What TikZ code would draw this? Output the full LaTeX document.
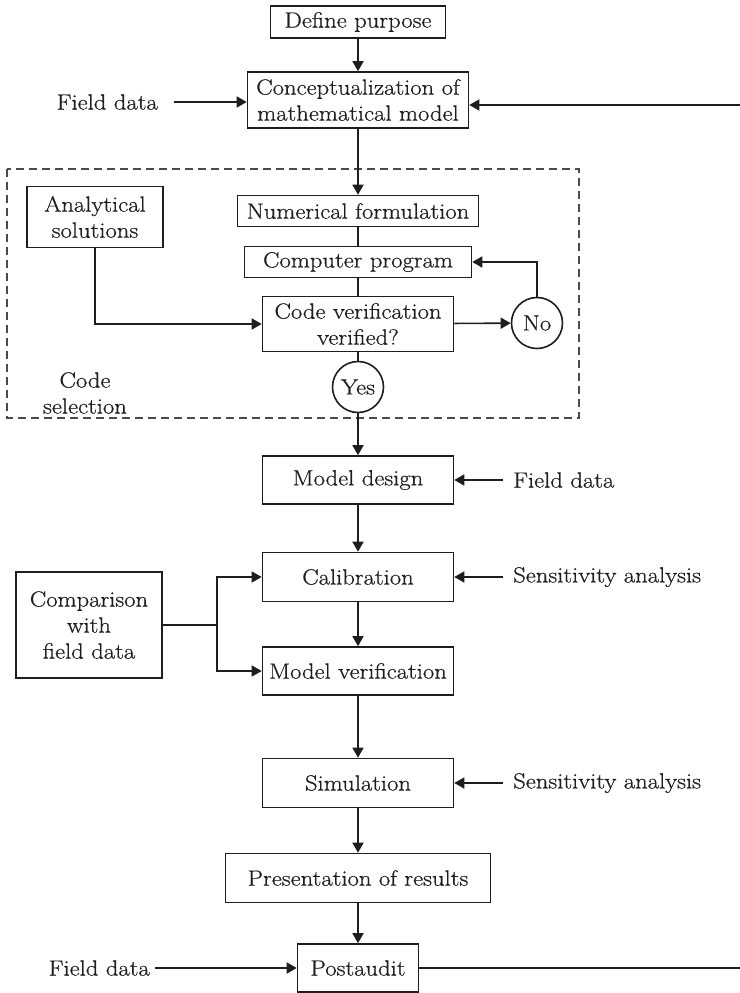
\documentclass[tikz,border=0pt]{standalone}
\usepackage{fontspec}
\setmainfont{Latin Modern Roman}[FakeStretch=1.12, FakeBold=0.6]
\usetikzlibrary{arrows.meta}
\definecolor{ink}{HTML}{1E1E1E}
\definecolor{dashc}{HTML}{4A4A4A}
\newcommand{\flowfont}{\fontsize{22}{26}\selectfont}
\begin{document}
\begin{tikzpicture}[x=1pt,y=-1pt,
  every node/.style={text=ink, font=\flowfont},
  box/.style={draw=ink, line width=1.6pt, rectangle, inner sep=0pt, align=center},
  decision/.style={draw=ink, line width=1.6pt, circle, inner sep=0pt, minimum size=51pt},
  lab/.style={inner sep=0pt, align=center},
  arr/.style={draw=ink, line width=1.6pt, -{Triangle[length=10pt,width=11pt]}},
  ln/.style={draw=ink, line width=1.6pt},
  groupline/.style={draw=dashc, line width=1.5pt, dash pattern=on 8pt off 5pt}]
\useasboundingbox (0,0) rectangle (739,993);

% main column
\node[box, minimum width=175pt, minimum height=32pt] (def) at (358,22) {Define purpose};
\node[box, minimum width=221pt, minimum height=56pt] (con) at (358,100) {Conceptualization of\\mathematical model};

% code selection group
\draw[groupline] (7,169) rectangle (579,418);
\node[box, minimum width=241pt, minimum height=31pt] (num) at (358,211) {Numerical formulation};
\node[box, minimum width=227pt, minimum height=31pt] (comp) at (358,262) {Computer program};
\node[box, minimum width=191pt, minimum height=55pt] (codev) at (358,324) {Code verification\\verified?};
\node[box, minimum width=136pt, minimum height=61pt] (ana) at (95,217) {Analytical\\solutions};
\node[decision] (no) at (537,323) {No};
\node[decision] (yes) at (358,387) {Yes};
\node[lab] (csel) at (85,393) {Code\\selection};

% modelling steps
\node[box, minimum width=191pt, minimum height=48pt] (md) at (358,480) {Model design};
\node[box, minimum width=191pt, minimum height=49pt] (cal) at (358,577) {Calibration};
\node[box, minimum width=191pt, minimum height=48pt] (mv) at (358,671) {Model verification};
\node[box, minimum width=146pt, minimum height=106pt] (cmp) at (89,625) {Comparison\\with\\field data};
\node[box, minimum width=191pt, minimum height=49pt] (sim) at (358,783) {Simulation};
\node[box, minimum width=265pt, minimum height=49pt] (pres) at (358,878) {Presentation of results};
\node[box, minimum width=121pt, minimum height=48pt] (post) at (358,968) {Postaudit};

% side inputs
\node[lab, inner xsep=16pt, anchor=east] (fd1) at (174,102) {Field data};
\node[lab, inner xsep=10pt, anchor=west] (fd2) at (503,480) {Field data};
\node[lab, inner xsep=10pt, anchor=west] (sa1) at (503,577) {Sensitivity analysis};
\node[lab, inner xsep=10pt, anchor=west] (sa2) at (503,783) {Sensitivity analysis};
\node[lab, inner xsep=5pt, anchor=east] (fd3) at (155,968) {Field data};

% connectors
\draw[arr] (def) -- (con);
\draw[arr] (fd1.east) -- (con.west |- fd1.east);
\draw[arr] (con) -- (num);
\draw[ln] (num) -- (comp);
\draw[ln] (comp) -- (codev);
\draw[arr] (ana.south) |- (codev.west);
\draw[arr] (codev) -- (no);
\draw[arr] (no.north) |- (comp.east);
\draw[ln] (codev) -- (yes);
\draw[arr] (yes) -- (md);
\draw[arr] (fd2.west) -- (md.east);
\draw[arr] (md) -- (cal);
\draw[arr] (sa1.west) -- (cal.east);
\draw[arr] (cal) -- (mv);
\coordinate (split) at (217,625);
\draw[ln] (cmp.east) -- (split);
\draw[arr] (split) |- (cal.west);
\draw[arr] (split) |- (mv.west);
\draw[arr] (mv) -- (sim);
\draw[arr] (sa2.west) -- (sim.east);
\draw[arr] (sim) -- (pres);
\draw[arr] (pres) -- (post);
\draw[arr] (fd3.east) -- (post.west);

% feedback from the postaudit to the conceptual model
\coordinate (fbl) at (745,968);
\coordinate (fbu) at (745,105);
\draw[arr] (post.east) -- (fbl) -- (fbu) -- (con.east |- fbu);
\end{tikzpicture}
\end{document}
